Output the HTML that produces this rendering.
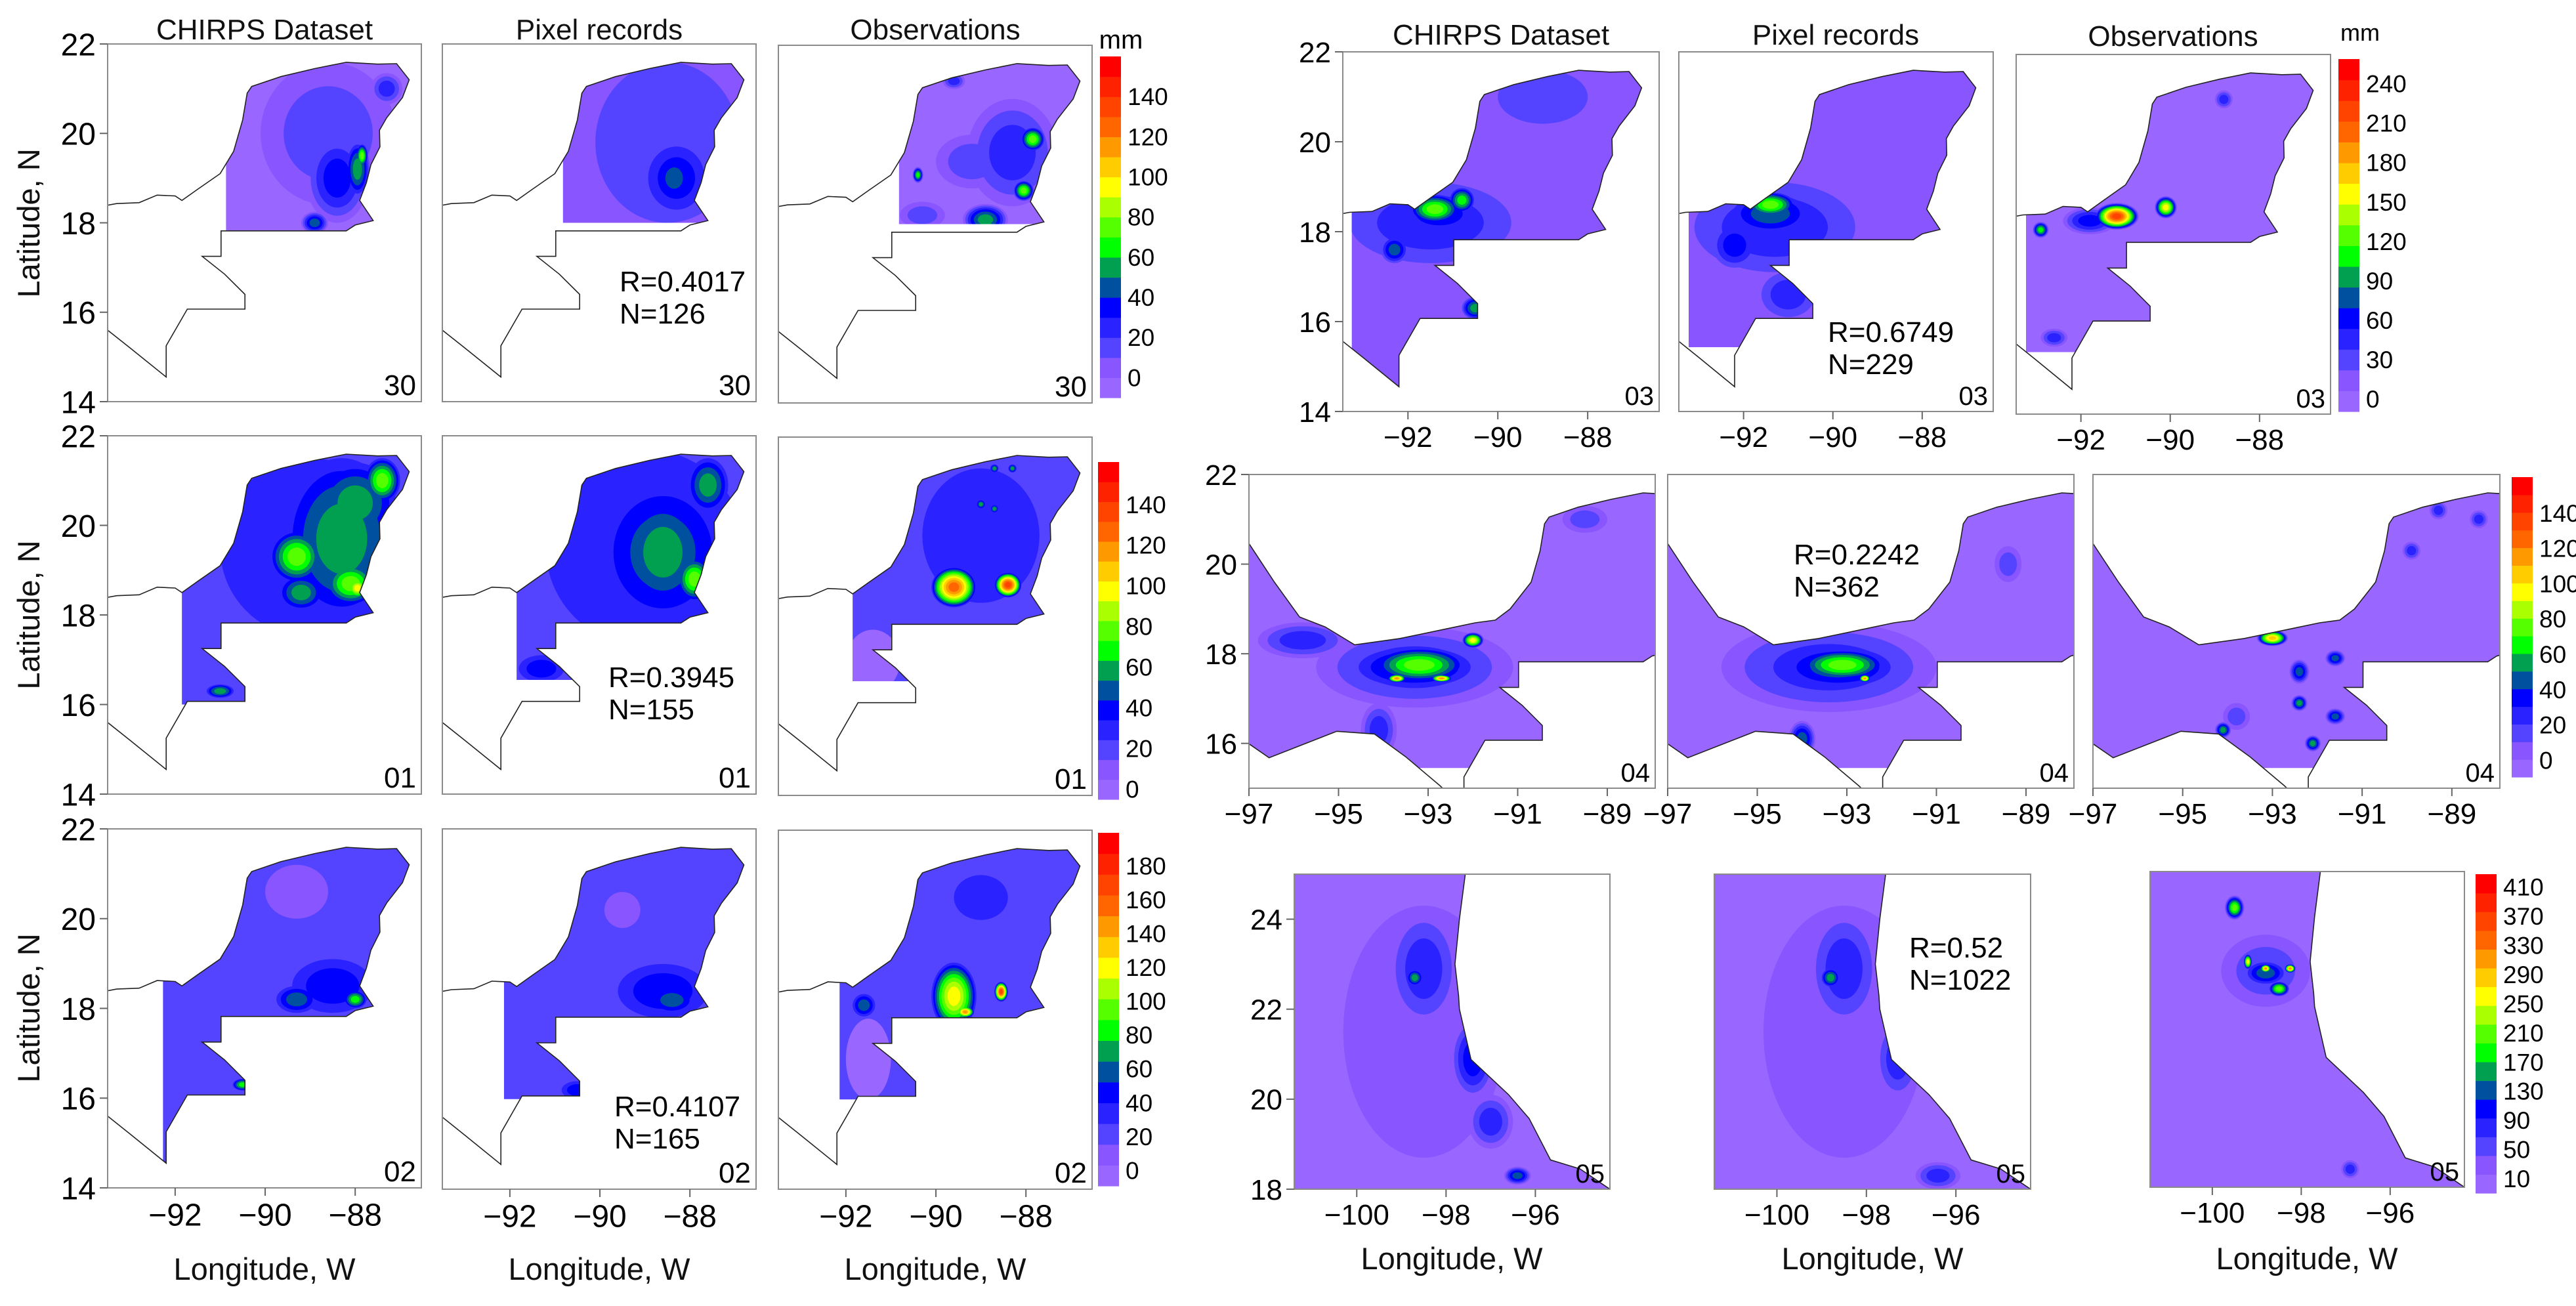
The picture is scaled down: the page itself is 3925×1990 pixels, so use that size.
<!DOCTYPE html>
<html><head><meta charset="utf-8">
<style>
html,body{margin:0;padding:0;background:#fff;}
svg{display:block;font-family:"Liberation Sans",Arial,sans-serif;}
</style></head>
<body>
<svg id="fig" xmlns="http://www.w3.org/2000/svg" width="3925" height="1990" viewBox="0 0 3925 1990">
<rect x="0" y="0" width="3925" height="1990" fill="#fff"/>
<g id="layer"></g>
<g font-size="44" text-anchor="middle" fill="#111">
<text x="403" y="60">CHIRPS Dataset</text>
<text x="913" y="60">Pixel records</text>
<text x="1425" y="60">Observations</text>
<text x="2287" y="68">CHIRPS Dataset</text>
<text x="2797" y="68">Pixel records</text>
<text x="3311" y="70">Observations</text>
</g>
<text x="1708" y="74" font-size="40" text-anchor="middle">mm</text>
<text x="3596" y="62" font-size="36" text-anchor="middle">mm</text>
<g font-size="47" text-anchor="middle" fill="#111">
<text transform="translate(60,340) rotate(-90)">Latitude, N</text>
<text transform="translate(60,937) rotate(-90)">Latitude, N</text>
<text transform="translate(60,1536) rotate(-90)">Latitude, N</text>
<text x="403" y="1950">Longitude, W</text>
<text x="913" y="1950">Longitude, W</text>
<text x="1425" y="1950">Longitude, W</text>
<text x="2212" y="1934">Longitude, W</text>
<text x="2853" y="1934">Longitude, W</text>
<text x="3515" y="1934">Longitude, W</text>
</g>
</svg>
<script>
const bandColors = ['#9966ff','#8855ff','#5544ff','#2a22ff','#0000ff','#0050a0','#00a050','#00ff00','#55ff00','#aaff00','#ffff00','#ffcc00','#ff9900','#ff6600','#ff4400','#ff2200','#ff0000'];

const cbLabels30 = ['0','20','40','60','80','100','120','140'];
const cbLabels01 = ['0','20','40','60','80','100','120','140'];
const cbLabels02 = ['0','20','40','60','80','100','120','140','160','180'];
const cbLabels03 = ['0','30','60','90','120','150','180','210','240'];
const cbLabels04 = ['0','20','40','60','80','100','120','140'];
const cbLabels05 = ['10','50','90','130','170','210','250','290','330','370','410'];

const latTicksYuc = [22,20,18,16,14];
const lonTicksYuc = [-92,-90,-88];
const latTicksGulf = [22,20,18,16];
const lonTicksGulf = [-97,-95,-93,-91,-89];
const latTicksNorth = [24,22,20,18];
const lonTicksNorth = [-100,-98,-96];

const statR = ['0.4017','0.3945','0.4107','0.6749','0.2242','0.52'];
const statN = ['126','155','165','229','362','1022'];
const dateLabels = ['30','01','02','03','04','05'];

const landYucatan = [[-94.0,18.3],[-93.3,18.43],[-92.8,18.45],[-92.4,18.62],[-92.0,18.6],[-91.85,18.5],[-91.5,18.75],[-91.0,19.1],[-90.7,19.6],[-90.5,20.3],[-90.4,20.9],[-90.3,21.05],[-89.65,21.27],[-88.9,21.45],[-88.2,21.59],[-87.5,21.55],[-87.08,21.56],[-86.8,21.2],[-86.95,20.8],[-87.3,20.35],[-87.46,20.07],[-87.45,19.7],[-87.65,19.3],[-87.75,18.9],[-87.9,18.5],[-87.6,18.05],[-88.0,17.95],[-88.2,17.82],[-90.98,17.82],[-90.98,17.25],[-91.4,17.25],[-90.9,16.85],[-90.45,16.4],[-90.45,16.07],[-91.73,16.07],[-92.2,15.25],[-92.2,14.55],[-93.0,15.2],[-94.0,16.0]];
const landGulf = [[-97.6,21.3],[-97.0,20.46],[-96.44,19.61],[-95.87,18.82],[-95.3,18.6],[-94.64,18.2],[-93.63,18.34],[-92.52,18.57],[-91.95,18.69],[-91.5,18.75],[-91.17,19.0],[-90.7,19.6],[-90.5,20.3],[-90.4,20.9],[-90.3,21.05],[-89.65,21.27],[-88.9,21.45],[-88.2,21.59],[-87.5,21.55],[-87.08,21.56],[-86.8,21.2],[-86.95,20.8],[-87.3,20.35],[-87.46,20.07],[-87.45,19.7],[-87.65,19.3],[-87.75,18.9],[-87.9,18.5],[-87.6,18.05],[-88.0,17.95],[-88.2,17.82],[-90.98,17.82],[-90.98,17.25],[-91.4,17.25],[-90.9,16.85],[-90.45,16.4],[-90.45,16.07],[-91.73,16.07],[-92.2,15.25],[-92.2,14.55],[-92.74,15.06],[-93.5,15.7],[-94.2,16.21],[-95.04,16.27],[-96.55,15.68],[-97.0,15.99],[-97.6,16.0]];
const landNorth = [[-102,25.5],[-97.55,25.5],[-97.57,25.0],[-97.7,24.0],[-97.8,23.0],[-97.72,22.3],[-97.7,22.0],[-97.44,20.88],[-96.6,20.1],[-96.14,19.57],[-95.66,18.65],[-95.0,18.45],[-94.33,18.0],[-94.0,17.5],[-102,17.5]];

// rainfall cells: [lon, lat, rxDeg, ryDeg, bandLevel]
const cells30Chirps = [[-88.6,20.0,1.5,1.6,2],[-88.4,19.0,0.7,1.0,4],[-87.95,19.2,0.3,0.7,6],[-87.85,19.5,0.15,0.3,8],[-88.9,18.0,0.3,0.25,5],[-87.3,21.0,0.35,0.35,3]];
const cells30Pixel = [[-88.5,19.8,1.6,1.8,2],[-88.3,19.0,0.8,0.9,4],[-88.35,19.0,0.45,0.55,5]];
const cells30Obs = [[-88.3,19.6,1.0,1.2,3],[-87.85,19.9,0.3,0.3,8],[-88.9,18.1,0.5,0.35,6],[-88.8,17.9,0.22,0.18,9],[-88.45,17.85,0.1,0.07,15],[-88.05,18.75,0.25,0.25,8],[-90.4,19.1,0.12,0.18,7],[-89.6,21.2,0.25,0.18,3],[-89.2,19.4,0.8,0.6,2],[-90.3,18.2,0.5,0.3,2]];
const cells01Chirps = [[-89.0,19.5,2.0,2.0,3],[-88.3,19.7,1.3,1.8,6],[-88.0,20.5,0.9,0.9,6],[-87.4,21.0,0.4,0.5,8],[-89.3,19.3,0.6,0.6,8],[-88.1,18.7,0.6,0.5,8],[-87.95,18.6,0.25,0.25,10],[-89.2,18.5,0.5,0.4,6],[-91.0,16.3,0.3,0.15,6],[-89.9,21.1,0.7,0.3,1]];
const cells01Pixel = [[-89.0,19.5,2.2,2.2,3],[-88.6,19.4,1.4,1.6,5],[-88.6,19.4,1.0,1.3,6],[-87.6,20.9,0.45,0.6,6],[-87.9,18.8,0.4,0.5,8],[-91.3,16.8,0.5,0.3,4],[-89.9,21.2,0.6,0.25,1]];
const cells01Obs = [[-91.4,17.0,0.6,0.7,0],[-89.0,19.8,1.3,1.5,3],[-89.6,18.65,0.5,0.45,13],[-88.4,18.7,0.3,0.28,14],[-89.0,20.5,0.1,0.1,6],[-88.7,21.3,0.09,0.09,6],[-88.3,21.3,0.09,0.09,6],[-88.7,20.4,0.09,0.09,6]];
const cells02Chirps = [[-89.3,20.6,0.7,0.6,1],[-88.5,18.5,0.9,0.6,4],[-88.0,18.2,0.25,0.2,7],[-89.3,18.2,0.45,0.3,5],[-90.5,16.3,0.22,0.13,7]];
const cells02Pixel = [[-89.5,20.2,0.4,0.4,1],[-88.6,18.4,1.0,0.6,4],[-88.4,18.2,0.5,0.3,5],[-90.5,16.2,0.35,0.2,4]];
const cells02Obs = [[-91.5,16.9,0.5,0.9,0],[-89.6,18.3,0.5,0.75,10],[-89.35,17.95,0.2,0.13,12],[-88.55,18.4,0.15,0.22,14],[-91.6,18.1,0.25,0.25,5],[-89.0,20.5,0.6,0.5,3]];
const cells03Chirps = [[-91.5,18.2,1.8,0.9,3],[-91.3,18.4,1.0,0.5,4],[-91.4,18.5,0.6,0.35,8],[-90.8,18.7,0.3,0.3,7],[-92.3,17.6,0.3,0.3,5],[-90.5,16.3,0.3,0.25,6],[-89.0,21.0,1.0,0.6,2]];
const cells03Pixel = [[-91.3,18.1,1.8,1.0,3],[-91.4,18.4,1.0,0.5,5],[-91.4,18.6,0.6,0.3,8],[-92.2,17.7,0.5,0.5,4],[-91.0,16.6,0.6,0.5,3]];
const cells03Obs = [[-91.2,18.4,0.5,0.3,14],[-90.1,18.6,0.25,0.25,10],[-92.9,18.1,0.18,0.18,7],[-91.8,18.3,0.6,0.3,4],[-88.8,21.0,0.2,0.2,3],[-92.6,15.7,0.3,0.2,3]];
const cells04Chirps = [[-93.3,17.7,2.2,0.9,3],[-93.3,17.7,1.7,0.6,5],[-93.2,17.75,1.2,0.45,8],[-93.7,17.45,0.22,0.1,12],[-92.7,17.45,0.25,0.09,12],[-92.0,18.3,0.25,0.18,10],[-95.8,18.3,1.0,0.4,3],[-94.1,16.3,0.4,0.6,3],[-89.5,21.0,0.5,0.3,2]];
const cells04Pixel = [[-93.4,17.7,2.4,1.0,3],[-93.2,17.7,1.6,0.6,5],[-93.1,17.75,1.1,0.4,8],[-92.6,17.45,0.13,0.09,12],[-94.0,16.1,0.3,0.4,5],[-89.4,20.0,0.3,0.4,2]];
const cells04Obs = [[-93.0,18.35,0.35,0.18,11],[-92.4,17.6,0.22,0.27,5],[-92.4,16.9,0.18,0.18,6],[-94.1,16.3,0.18,0.18,6],[-91.6,17.9,0.22,0.18,5],[-91.6,16.6,0.22,0.18,5],[-92.1,16.0,0.18,0.18,6],[-93.8,16.6,0.3,0.3,2],[-89.9,20.3,0.2,0.2,3],[-88.4,21.0,0.2,0.2,3],[-89.3,21.2,0.2,0.2,3]];
const cells05Chirps = [[-98.5,21.5,1.8,2.8,1],[-98.5,22.9,0.8,1.3,3],[-98.7,22.7,0.22,0.22,6],[-97.4,20.9,0.5,0.9,4],[-97.3,20.9,0.09,0.18,8],[-96.4,18.3,0.3,0.2,5],[-97.0,19.5,0.5,0.6,3]];
const cells05Pixel = [[-98.5,21.5,1.8,2.8,1],[-98.5,22.9,0.8,1.3,3],[-98.8,22.7,0.25,0.25,6],[-97.3,20.9,0.5,0.9,3],[-96.4,18.3,0.5,0.3,3]];
const cells05Obs = [[-98.8,22.8,1.0,0.8,2],[-99.5,24.2,0.22,0.27,8],[-98.8,22.75,0.55,0.32,5],[-99.2,23.0,0.1,0.18,10],[-98.8,22.85,0.13,0.1,12],[-98.25,22.85,0.13,0.1,12],[-98.5,22.4,0.25,0.18,8],[-96.9,18.4,0.2,0.2,3]];

const NS = 'http://www.w3.org/2000/svg';
const layer = document.getElementById('layer');
function mk(tag, parent) { const n = document.createElementNS(NS, tag); parent.appendChild(n); return n; }

const panels = [
 {key:'r1-chirps', x0:164,x1:642,y0:67,y1:612, lon:[-93.5,-86.53], lat:[14,22], land:landYucatan, minLon:-90.87, minLat:17.82, base:0, cells:cells30Chirps, date:0, yt:latTicksYuc},
 {key:'r1-pixel', x0:674,x1:1152,y0:67,y1:612, lon:[-93.5,-86.53], lat:[14,22], land:landYucatan, minLon:-90.82, minLat:18.0, base:1, cells:cells30Pixel, date:0, stat:0, sx:944, sy:444},
 {key:'r1-obs', x0:1186,x1:1664,y0:69,y1:614, lon:[-93.5,-86.53], lat:[14,22], land:landYucatan, minLon:-90.82, minLat:18.0, base:0, cells:cells30Obs, date:0},
 {key:'r2-chirps', x0:164,x1:642,y0:664,y1:1210, lon:[-93.5,-86.53], lat:[14,22], land:landYucatan, minLon:-91.85, minLat:16.0, base:2, cells:cells01Chirps, date:1, yt:latTicksYuc},
 {key:'r2-pixel', x0:674,x1:1152,y0:664,y1:1210, lon:[-93.5,-86.53], lat:[14,22], land:landYucatan, minLon:-91.85, minLat:16.55, base:2, cells:cells01Pixel, date:1, stat:1, sx:927, sy:1047},
 {key:'r2-obs', x0:1186,x1:1664,y0:666,y1:1212, lon:[-93.5,-86.53], lat:[14,22], land:landYucatan, minLon:-91.85, minLat:16.55, base:2, cells:cells01Obs, date:1},
 {key:'r3-chirps', x0:164,x1:642,y0:1263,y1:1810, lon:[-93.5,-86.53], lat:[14,22], land:landYucatan, minLon:-92.27, minLat:14.5, base:2, cells:cells02Chirps, date:2, yt:latTicksYuc, xt:lonTicksYuc},
 {key:'r3-pixel', x0:674,x1:1152,y0:1263,y1:1812, lon:[-93.5,-86.53], lat:[14,22], land:landYucatan, minLon:-92.13, minLat:16.0, base:2, cells:cells02Pixel, date:2, stat:2, sx:936, sy:1701, xt:lonTicksYuc},
 {key:'r3-obs', x0:1186,x1:1664,y0:1265,y1:1812, lon:[-93.5,-86.53], lat:[14,22], land:landYucatan, minLon:-92.14, minLat:16.0, base:2, cells:cells02Obs, date:2, xt:lonTicksYuc},
 {key:'r4-chirps', x0:2046,x1:2528,y0:79,y1:627, lon:[-93.45,-86.41], lat:[14,22], land:landYucatan, minLon:-93.25, minLat:14.5, base:1, cells:cells03Chirps, date:3, yt:latTicksYuc, xt:lonTicksYuc, small:true},
 {key:'r4-pixel', x0:2558,x1:3037,y0:79,y1:627, lon:[-93.45,-86.41], lat:[14,22], land:landYucatan, minLon:-93.23, minLat:15.43, base:1, cells:cells03Pixel, date:3, stat:3, sx:2785, sy:521, xt:lonTicksYuc, small:true},
 {key:'r4-obs', x0:3072,x1:3551,y0:83,y1:631, lon:[-93.45,-86.41], lat:[14,22], land:landYucatan, minLon:-93.23, minLat:15.38, base:0, cells:cells03Obs, date:3, xt:lonTicksYuc, small:true},
 {key:'r5-chirps', x0:1903,x1:2522,y0:723,y1:1201, lon:[-97,-87.93], lat:[15,22], land:landGulf, minLon:-97, minLat:15.45, base:0, cells:cells04Chirps, date:4, yt:latTicksGulf, xt:lonTicksGulf, small:true},
 {key:'r5-pixel', x0:2541,x1:3160,y0:723,y1:1201, lon:[-97,-87.93], lat:[15,22], land:landGulf, minLon:-97, minLat:15.45, base:0, cells:cells04Pixel, date:4, stat:4, sx:2733, sy:860, xt:lonTicksGulf, small:true},
 {key:'r5-obs', x0:3189,x1:3809,y0:723,y1:1201, lon:[-97,-87.93], lat:[15,22], land:landGulf, minLon:-97, minLat:15.45, base:0, cells:cells04Obs, date:4, xt:lonTicksGulf, small:true},
 {key:'r6-chirps', x0:1972,x1:2453,y0:1332,y1:1812, lon:[-101.4,-94.33], lat:[18,25], land:landNorth, minLon:-102, minLat:17, base:0, cells:cells05Chirps, date:5, yt:latTicksNorth, xt:lonTicksNorth, small:true},
 {key:'r6-pixel', x0:2612,x1:3094,y0:1332,y1:1812, lon:[-101.4,-94.33], lat:[18,25], land:landNorth, minLon:-102, minLat:17, base:0, cells:cells05Pixel, date:5, stat:5, sx:2909, sy:1459, xt:lonTicksNorth, small:true},
 {key:'r6-obs', x0:3276,x1:3755,y0:1328,y1:1809, lon:[-101.4,-94.33], lat:[18,25], land:landNorth, minLon:-102, minLat:17, base:0, cells:cells05Obs, date:5, xt:lonTicksNorth, small:true}
];

const colorbars = [
 {key:'cb-30', x:1676,y0:86,y1:606, labels:cbLabels30, f0:1/17, f1:15/17},
 {key:'cb-01', x:1673,y0:704,y1:1218, labels:cbLabels01, f0:0.03, f1:0.874},
 {key:'cb-02', x:1673,y0:1269,y1:1807, labels:cbLabels02, f0:0.044, f1:0.906},
 {key:'cb-03', x:3563,y0:90,y1:627, labels:cbLabels03, f0:0.035, f1:0.93},
 {key:'cb-04', x:3827,y0:727,y1:1184, labels:cbLabels04, f0:0.056, f1:0.88},
 {key:'cb-05', x:3772,y0:1332,y1:1818, labels:cbLabels05, f0:0.045, f1:0.96}
];

let clipId = 0;
panels.forEach(p => {
  const X = lon => p.x0 + (lon - p.lon[0]) / (p.lon[1] - p.lon[0]) * (p.x1 - p.x0);
  const Y = lat => p.y1 - (lat - p.lat[0]) / (p.lat[1] - p.lat[0]) * (p.y1 - p.y0);
  const pxLon = (p.x1 - p.x0) / (p.lon[1] - p.lon[0]);
  const pxLat = (p.y1 - p.y0) / (p.lat[1] - p.lat[0]);
  const g = mk('g', layer);
  
  
  const defs = mk('defs', g);
  const cr = mk('clipPath', defs); const crId = 'cr' + (clipId++); cr.setAttribute('id', crId);
  const rr = mk('rect', cr);
  rr.setAttribute('x', Math.max(p.x0, X(p.minLon))); rr.setAttribute('y', p.y0);
  rr.setAttribute('width', p.x1 - Math.max(p.x0, X(p.minLon))); rr.setAttribute('height', Math.min(p.y1, Y(p.minLat)) - p.y0);
  const cb = mk('clipPath', defs); const cbId = 'cb' + (clipId++); cb.setAttribute('id', cbId);
  const rb = mk('rect', cb);
  rb.setAttribute('x', p.x0); rb.setAttribute('y', p.y0); rb.setAttribute('width', p.x1 - p.x0); rb.setAttribute('height', p.y1 - p.y0);
  const cl = mk('clipPath', defs); const clId = 'cl' + (clipId++); cl.setAttribute('id', clId);
  const pts = p.land.map(q => X(q[0]).toFixed(1) + ',' + Y(q[1]).toFixed(1)).join(' ');
  const lp = mk('polygon', cl); lp.setAttribute('points', pts);

  const outer = mk('g', g); outer.setAttribute('clip-path', 'url(#' + crId + ')');
  const field = mk('g', outer); field.setAttribute('clip-path', 'url(#' + clId + ')');
  
  
  const bg = mk('rect', field);
  bg.setAttribute('x', p.x0); bg.setAttribute('y', p.y0); bg.setAttribute('width', p.x1 - p.x0); bg.setAttribute('height', p.y1 - p.y0);
  bg.setAttribute('fill', bandColors[p.base]);
  p.cells.filter(c => c[4] < p.base).forEach(c => {
    const e = mk('ellipse', field);
    
    
    e.setAttribute('cx', X(c[0])); e.setAttribute('cy', Y(c[1]));
    e.setAttribute('rx', c[2] * pxLon); e.setAttribute('ry', c[3] * pxLat);
    e.setAttribute('fill', bandColors[c[4]]);
  });
  for (let L = p.base + 1; L <= 16; L++) {
    p.cells.forEach(c => {
      if (c[4] < L) return;
      const s = Math.pow((c[4] - L + 1) / (c[4] - p.base), 0.6);
      const e = mk('ellipse', field);
      
      
      e.setAttribute('cx', X(c[0])); e.setAttribute('cy', Y(c[1]));
      e.setAttribute('rx', (c[2] * s * pxLon).toFixed(1)); e.setAttribute('ry', (c[3] * s * pxLat).toFixed(1));
      e.setAttribute('fill', bandColors[L]);
    });
  }
  const og = mk('g', g); og.setAttribute('clip-path', 'url(#' + cbId + ')');
  const ol = mk('polygon', og);
  
  
  ol.setAttribute('points', pts); ol.setAttribute('fill', 'none'); ol.setAttribute('stroke', '#222'); ol.setAttribute('stroke-width', '1.6');
  const fr = mk('rect', g);
  
  
  fr.setAttribute('x', p.x0); fr.setAttribute('y', p.y0); fr.setAttribute('width', p.x1 - p.x0); fr.setAttribute('height', p.y1 - p.y0);
  fr.setAttribute('fill', 'none'); fr.setAttribute('stroke', '#8a8a8a'); fr.setAttribute('stroke-width', '2');
  const dt = mk('text', g);
  
  
  dt.setAttribute('x', p.x1 - 8); dt.setAttribute('y', p.y1 - 10); dt.setAttribute('text-anchor', 'end'); dt.setAttribute('font-size', p.small ? 40 : 44);
  dt.textContent = dateLabels[p.date];
  if (p.stat !== undefined) {
    const t1 = mk('text', g);
    
    
    t1.setAttribute('x', p.sx); t1.setAttribute('y', p.sy); t1.setAttribute('font-size', 44);
    t1.textContent = 'R=' + statR[p.stat];
    const t2 = mk('text', g);
    
    
    t2.setAttribute('x', p.sx); t2.setAttribute('y', p.sy + 49); t2.setAttribute('font-size', 44);
    t2.textContent = 'N=' + statN[p.stat];
  }
  const fs = p.small ? 44 : 48;
  if (p.yt) p.yt.forEach(v => {
    const y = Y(v);
    const tk = mk('line', g);
    
    
    tk.setAttribute('x1', p.x0 - 12); tk.setAttribute('x2', p.x0); tk.setAttribute('y1', y); tk.setAttribute('y2', y);
    tk.setAttribute('stroke', '#666'); tk.setAttribute('stroke-width', '2');
    const tl = mk('text', g);
    
    
    tl.setAttribute('x', p.x0 - 18); tl.setAttribute('y', y + fs * 0.36); tl.setAttribute('text-anchor', 'end'); tl.setAttribute('font-size', fs);
    tl.textContent = v;
  });
  if (p.xt) p.xt.forEach(v => {
    const x = X(v);
    const tk = mk('line', g);
    
    
    tk.setAttribute('x1', x); tk.setAttribute('x2', x); tk.setAttribute('y1', p.y1); tk.setAttribute('y2', p.y1 + 12);
    tk.setAttribute('stroke', '#666'); tk.setAttribute('stroke-width', '2');
    const tl = mk('text', g);
    
    
    tl.setAttribute('x', x); tl.setAttribute('y', p.y1 + 12 + fs * 0.95); tl.setAttribute('text-anchor', 'middle'); tl.setAttribute('font-size', fs);
    tl.textContent = '\u2212' + Math.abs(v);
  });
});

colorbars.forEach(c => {
  const g = mk('g', layer);
  
  
  const h = (c.y1 - c.y0) / bandColors.length;
  bandColors.forEach((col, i) => {
    const r = mk('rect', g);
    
    
    r.setAttribute('x', c.x); r.setAttribute('y', (c.y1 - (i + 1) * h).toFixed(1));
    r.setAttribute('width', 32); r.setAttribute('height', (h + 0.6).toFixed(1)); r.setAttribute('fill', col);
  });
  const n = c.labels.length;
  c.labels.forEach((lab, i) => {
    const f = c.f0 + (c.f1 - c.f0) * i / (n - 1);
    const y = c.y1 - f * (c.y1 - c.y0);
    const t = mk('text', g);
    
    
    t.setAttribute('x', c.x + 42); t.setAttribute('y', y + 13); t.setAttribute('font-size', 37);
    t.textContent = lab;
  });
});
</script>
</body></html>
